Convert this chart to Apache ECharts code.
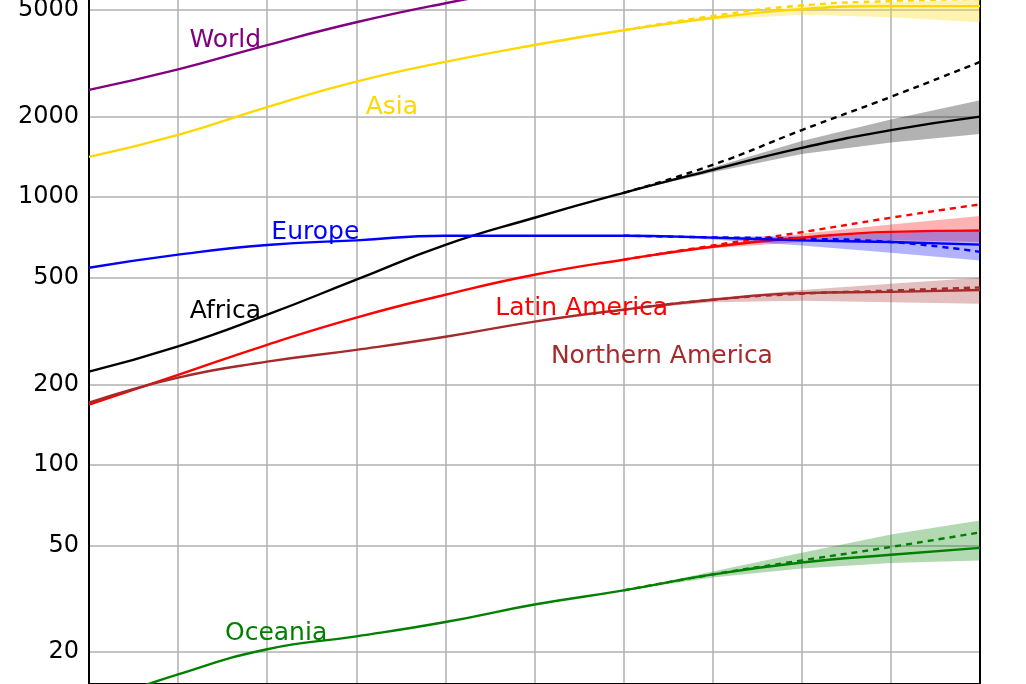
<!DOCTYPE html>
<html><head><meta charset="utf-8">
<script src="https://cdn.jsdelivr.net/npm/echarts@6/dist/echarts.min.js"></script>
<style>html,body{margin:0;padding:0;background:#fff}#c{width:1026px;height:684px}</style>
</head><body><div id="c"></div>
<script>
const years=[1950,1960,1970,1980,1990,2000,2010,2020,2030,2040,2050];
const projYears=[2010,2020,2030,2040,2050];
const yTicks=[20,50,100,200,500,1000,2000,5000];
const world=[2515,3000,3700,4500,5300,6100,6900,7700,8400,9000,9500];
const asia=[1415,1710,2170,2700,3200,3700,4200,4670,5040,5170,5170];
const asiaHigh=[4200,4750,5200,5400,5500];
const asiaLo=[4200,4600,4800,4700,4500];
const asiaUp=[4200,4750,5150,5350,5450];
const africa=[223,277,364,492,664,838,1038,1265,1528,1780,2000];
const africaHigh=[1038,1320,1780,2370,3200];
const africaLo=[1038,1240,1450,1600,1720];
const africaUp=[1038,1290,1620,1950,2300];
const europe=[545,610,663,690,718,718,718,706,690,680,665];
const europeHigh=[718,708,700,680,625];
const europeLo=[718,695,660,620,580];
const europeUp=[718,712,715,735,760];
const latam=[168,217,281,355,432,513,584,653,706,742,750];
const latamHigh=[584,660,740,838,940];
const latamLo=[584,645,680,690,680];
const latamUp=[584,662,730,790,850];
const namer=[171,212,243,269,301,343,380,414,438,443,450];
const namerHigh=[380,414,436,448,460];
const namerLo=[380,405,410,405,400];
const namerUp=[380,420,450,475,500];
const oceania=[12.7,16.5,20.5,22.9,25.9,30.1,34,39,43.2,46.2,49];
const oceaniaHigh=[34,39,44,49.4,56];
const oceaniaLo=[34,38,41,43,44];
const oceaniaUp=[34,40,47,55,62];
const labelNames=['World','Asia','Europe','Africa','Latin America','Northern America','Oceania'];
const labelX=[1965.3,1984,1975.4,1965.3,2005.3,2014.3,1971];
const labelY=[3860,2170,740,375,385,255,23.5];
const labelColors=['#800080','#FFD700','#0000FF','#000000','#FF0000','#A52A2A','#008000'];
const pair=(xs,ys)=>xs.map((x,i)=>[x,ys[i]]);
const series=[];
function region(main,high,lo,up,color){
  series.push({type:'custom',renderItem:(p,api)=>{
    const pts=projYears.map((x,i)=>api.coord([x,up[i]]));
    for(let i=projYears.length-1;i>=0;i--)pts.push(api.coord([projYears[i],lo[i]]));
    return {type:'polygon',shape:{points:pts},style:{fill:color,opacity:0.3}};
  },data:[[2010,lo[0]]],silent:true,z:1,clip:true});
  series.push({type:'line',data:pair(projYears,high),smooth:true,showSymbol:false,lineStyle:{color,width:2.4,type:[6,5]},z:3});
  series.push({type:'line',data:pair(years,main),smooth:true,showSymbol:false,lineStyle:{color,width:2.4},z:4});
}
region(asia,asiaHigh,asiaLo,asiaUp,'#FFD700');
region(africa,africaHigh,africaLo,africaUp,'#000000');
region(latam,latamHigh,latamLo,latamUp,'#FF0000');
region(namer,namerHigh,namerLo,namerUp,'#A52A2A');
region(europe,europeHigh,europeLo,europeUp,'#0000FF');
region(oceania,oceaniaHigh,oceaniaLo,oceaniaUp,'#008000');
series.push({type:'line',data:pair(years,world),smooth:true,showSymbol:false,lineStyle:{color:'#800080',width:2.4},z:4,
  markLine:{silent:true,symbol:'none',z:0,lineStyle:{color:'#b0b0b0',width:1.5,type:'solid'},
    label:{position:'start',formatter:p=>p.value,fontSize:24,color:'#000',fontFamily:'DejaVu Sans',distance:10},
    data:yTicks.map(v=>({yAxis:v}))}});
series.push({type:'scatter',symbolSize:0,silent:true,z:6,itemStyle:{opacity:1},
  data:labelNames.map((n,i)=>({value:[labelX[i],labelY[i]],name:n,
    label:{show:true,position:'inside',formatter:n,color:labelColors[i],opacity:1,fontSize:25,fontFamily:'DejaVu Sans'}}))});
const chart=echarts.init(document.getElementById('c'));
const yCommon={type:'log',min:15.2,max:5450,axisLabel:{show:false},axisTick:{show:false},
    axisLine:{show:true,lineStyle:{color:'#000',width:2}},splitLine:{show:false}};
chart.setOption({animation:false,
  grid:{left:89,right:46,top:0,bottom:0},
  xAxis:{type:'value',min:1950,max:2050,interval:10,axisLabel:{show:false},axisTick:{show:false},
    axisLine:{show:true,lineStyle:{color:'#000',width:2}},splitLine:{show:true,lineStyle:{color:'#b0b0b0',width:1.5}}},
  yAxis:[Object.assign({position:'left'},yCommon),Object.assign({position:'right'},yCommon)],
  series});
</script></body></html>
